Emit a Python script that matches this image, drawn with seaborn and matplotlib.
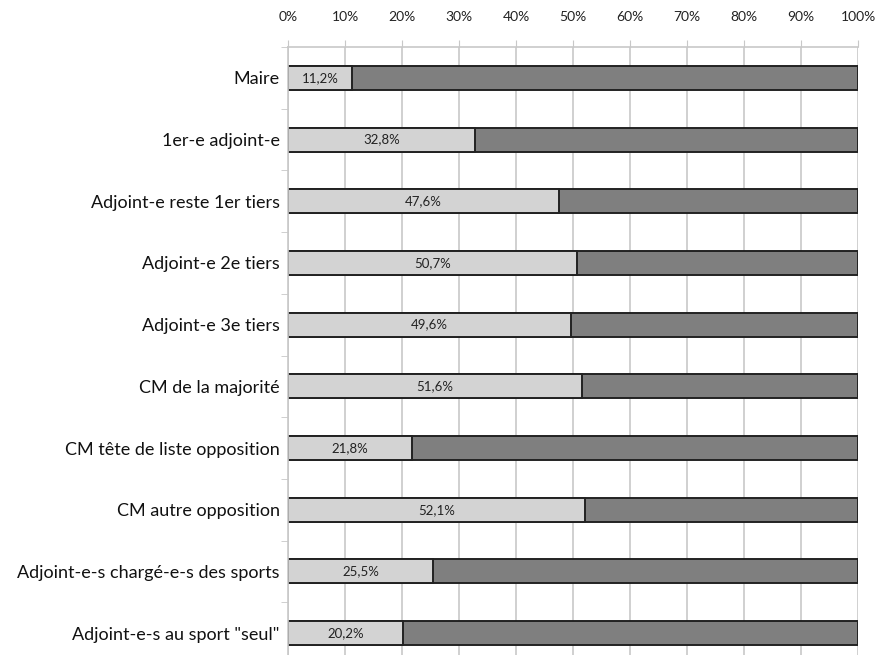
import matplotlib.pyplot as plt
import numpy as np
import pandas as pd
import seaborn as sns
from matplotlib.ticker import FixedLocator, PercentFormatter

categories = [
    "Maire",
    "1er-e adjoint-e",
    "Adjoint-e reste 1er tiers",
    "Adjoint-e 2e tiers",
    "Adjoint-e 3e tiers",
    "CM de la majorité",
    "CM tête de liste opposition",
    "CM autre opposition",
    "Adjoint-e-s chargé-e-s des sports",
    'Adjoint-e-s au sport "seul"',
]
women_pct = [11.2, 32.8, 47.6, 50.7, 49.6, 51.6, 21.8, 52.1, 25.5, 20.2]
total_pct = [100] * len(categories)

df = pd.DataFrame({"cat": categories, "women": women_pct, "total": total_pct})

sns.set_style("white")
plt.rcParams["font.family"] = ["Lato", "DejaVu Sans"]

fig = plt.figure(figsize=(8.75, 6.55), dpi=100)
ax = fig.add_axes([288 / 875, -0.0137, 570 / 875, 0.9419])

grid_c = "#c8c8c8"
# dark bar = full 100%, light bar drawn over it = women share
sns.barplot(data=df, y="cat", x="total", color="#7f7f7f", width=0.39,
            edgecolor="#222222", linewidth=1.4, saturation=1, ax=ax)
sns.barplot(data=df, y="cat", x="women", color="#d3d3d3", width=0.39,
            edgecolor="#222222", linewidth=1.4, saturation=1, ax=ax)

for i, v in enumerate(women_pct):
    ax.text(v / 2, i, f"{v:.1f}%".replace(".", ","), ha="center", va="center",
            fontsize=9.5, color="#222222")

ax.set_xlim(0, 100)
ax.set_ylim(len(categories) - 0.5, -0.5)
ax.xaxis.set_major_locator(FixedLocator(np.arange(0, 101, 10)))
ax.xaxis.set_major_formatter(PercentFormatter(decimals=0))
ax.xaxis.tick_top()
ax.tick_params(axis="x", length=5, color=grid_c, pad=12, labelsize=10,
               labelcolor="#222222")
ax.grid(axis="x", color=grid_c, linewidth=1.2)
ax.set_axisbelow(True)

ax.yaxis.set_minor_locator(FixedLocator(np.arange(-0.5, len(categories), 1)))
ax.tick_params(axis="y", which="major", length=0, pad=6, labelsize=13,
               labelcolor="#111111")
ax.tick_params(axis="y", which="minor", length=5, color=grid_c, left=True)

for side in ["right", "bottom"]:
    ax.spines[side].set_visible(False)
for side in ["left", "top"]:
    ax.spines[side].set_color(grid_c)
    ax.spines[side].set_linewidth(1.2)

ax.set_xlabel("")
ax.set_ylabel("")

fig.savefig("out.png", dpi=100)
